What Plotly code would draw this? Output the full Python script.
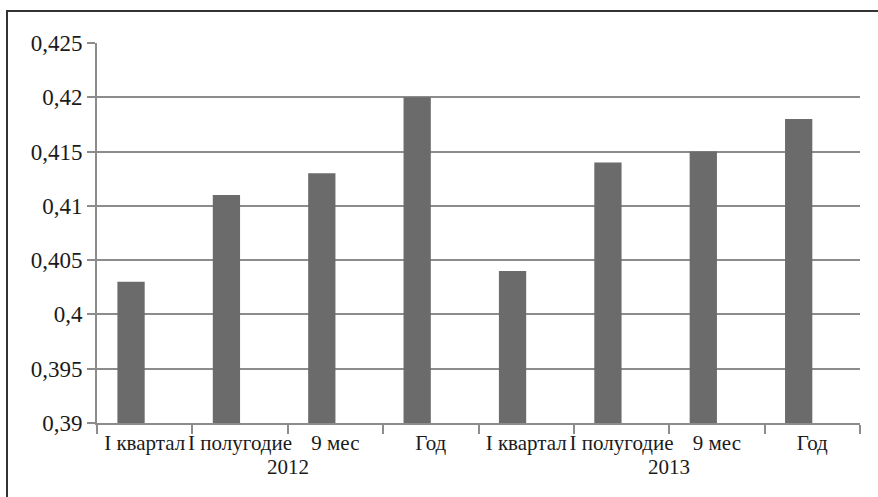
import plotly.graph_objects as go

years = ["2012", "2013"]
periods = ["I квартал", "I полугодие", "9 мес", "Год"]
values = [0.403, 0.411, 0.413, 0.420, 0.404, 0.414, 0.415, 0.418]
y_ticks = [0.39, 0.395, 0.40, 0.405, 0.41, 0.415, 0.42, 0.425]
y_ticktext = [f"{v:g}".replace(".", ",") for v in y_ticks]

labels = [p for _ in years for p in periods]
xs = list(range(len(labels)))

W, H = 878, 497
L, R, T, B = 97, 18, 43, 74
pw, ph = W - L - R, H - T - B

fig = go.Figure()
fig.add_trace(go.Bar(
    x=xs, y=values,
    marker=dict(color="#6b6b6b", line=dict(width=0)),
    width=0.286, offset=-0.286,
    base=0,
))

fam = "'Liberation Serif', 'Times New Roman', Times, serif"
yfont = dict(family=fam, size=23, color="#1a1a1a")
xfont = dict(family=fam, size=21, color="#1a1a1a")
yrfont = dict(family=fam, size=21, color="#1a1a1a")

annotations = []
n = len(periods)
for gi, yr in enumerate(years):
    annotations.append(dict(
        x=gi * n + (n - 1) / 2, xref="x", y=(T + ph - 467) / ph, yref="paper",
        text=yr, showarrow=False, font=yrfont, xanchor="center", yanchor="middle",
    ))

fig.update_layout(
    width=W, height=H,
    margin=dict(l=L, r=R, t=T, b=B, autoexpand=False),
    paper_bgcolor="white", plot_bgcolor="white",
    showlegend=False,
    font=xfont,
    xaxis=dict(
        range=[-0.5, len(labels) - 0.5],
        tickvals=xs, ticktext=labels, tickangle=0,
        showline=True, linecolor="#8c8c8c", linewidth=2,
        ticks="", showgrid=False, zeroline=False,
        minor=dict(tick0=-0.5, dtick=1, ticks="outside", ticklen=9, tickwidth=2,
                   tickcolor="#8c8c8c", showgrid=False),
        tickfont=xfont, automargin=False,
    ),
    yaxis=dict(
        range=[0.39, 0.425],
        tickvals=y_ticks, ticktext=y_ticktext,
        showgrid=True, gridcolor="#8c8c8c", gridwidth=2,
        showline=True, linecolor="#8c8c8c", linewidth=2,
        ticks="outside", ticklen=8, tickwidth=2, tickcolor="#8c8c8c",
        tickfont=yfont, zeroline=False, automargin=False,
    ),
    annotations=annotations,
    shapes=[dict(
        type="rect", xref="paper", yref="paper",
        x0=(7 - L) / pw, x1=(W + 10 - L) / pw,
        y0=(T + ph - (H + 10)) / ph, y1=(T + ph - 11) / ph,
        line=dict(color="#333333", width=2), fillcolor="rgba(0,0,0,0)",
    )],
)

fig.write_html("out.html")
